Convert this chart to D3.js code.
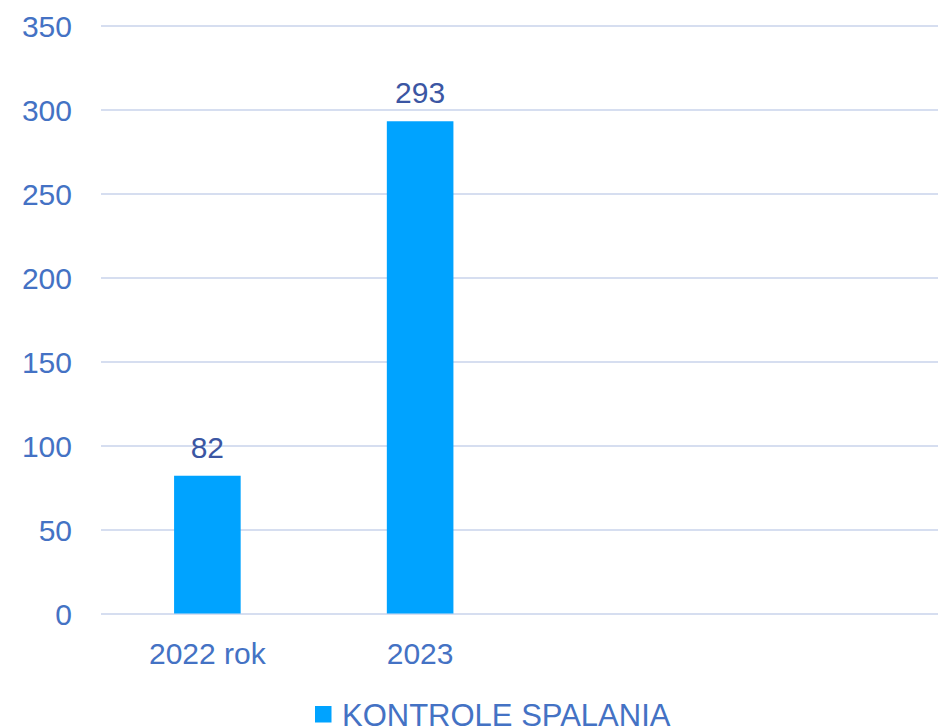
<!DOCTYPE html>
<html>
<head>
<meta charset="utf-8">
<script src="https://cdn.jsdelivr.net/npm/d3@7"></script>
<style>
  html, body { margin: 0; padding: 0; background: #fff; overflow: hidden; }
  svg { display: block; }
</style>
</head>
<body>
<div class="chart"></div>
<script>
// data
var categories = ['2022 rok', '2023', '', ''];
var values = [82, 293, null, null];
var yTicks = [0, 50, 100, 150, 200, 250, 300, 350];
var seriesName = 'KONTROLE SPALANIA';

var w = 938;
var h = 727;
var plotLeft = 101, plotRight = 952, plotTop = 25.5, plotBottom = 613.5;

var x = d3.scaleBand()
    .domain(d3.range(categories.length))
    .range([plotLeft, plotRight])
    .paddingInner(0.687)
    .paddingOuter(0.3435);

var y = d3.scaleLinear()
    .domain([0, 350])
    .range([plotBottom, plotTop]);

var barData = values
    .map(function (v, i) { return { i: i, v: v }; })
    .filter(function (d) { return d.v != null; });

var svg = d3.select('.chart')
    .append('svg')
    .attr('width', w)
    .attr('height', h)
    .style('font-family', 'Liberation Sans, Arial, sans-serif');

// gridlines + y labels
var yAxis = d3.axisLeft(y)
    .tickValues(yTicks)
    .tickSize(-(plotRight - plotLeft))
    .tickPadding(29);

var gy = svg.append('g')
    .attr('transform', 'translate(' + plotLeft + ',0)')
    .call(yAxis);
gy.select('.domain').remove();
gy.selectAll('.tick line')
    .attr('stroke', '#D6DEF0')
    .attr('stroke-width', 2);
gy.selectAll('.tick text')
    .attr('fill', '#4472C4')
    .attr('font-size', '30px')
    .attr('dy', '0.36em');

// bars
svg.selectAll('rect.bar')
    .data(barData)
    .enter()
    .append('rect')
        .attr('class', 'bar')
        .attr('x', function (d) { return x(d.i); })
        .attr('y', function (d) { return y(d.v); })
        .attr('width', x.bandwidth())
        .attr('height', function (d) { return y(0) - y(d.v); })
        .attr('fill', '#00A3FF');

// data labels
svg.selectAll('text.val')
    .data(barData)
    .enter()
    .append('text')
        .attr('class', 'val')
        .attr('x', function (d) { return x(d.i) + x.bandwidth() / 2; })
        .attr('y', function (d) { return y(d.v) - 18; })
        .attr('text-anchor', 'middle')
        .attr('font-size', '30px')
        .attr('fill', '#3B56A3')
        .text(function (d) { return d.v; });

// category labels
var xAxis = d3.axisBottom(x)
    .tickSize(0)
    .tickPadding(0)
    .tickFormat(function (i) { return categories[i]; });

var gx = svg.append('g')
    .attr('transform', 'translate(0,' + plotBottom + ')')
    .call(xAxis);
gx.select('.domain').remove();
gx.selectAll('.tick text')
    .attr('fill', '#4472C4')
    .attr('font-size', '30px')
    .attr('y', 50.5)
    .attr('dy', 0);

// legend
var legend = svg.append('g')
    .attr('transform', 'translate(315,706)');
legend.append('rect')
    .attr('width', 16.5)
    .attr('height', 16.5)
    .attr('fill', '#00A3FF');
legend.append('text')
    .attr('x', 27)
    .attr('y', 19.5)
    .attr('font-size', '31px')
    .attr('fill', '#4472C4')
    .text(seriesName);
</script>
</body>
</html>
